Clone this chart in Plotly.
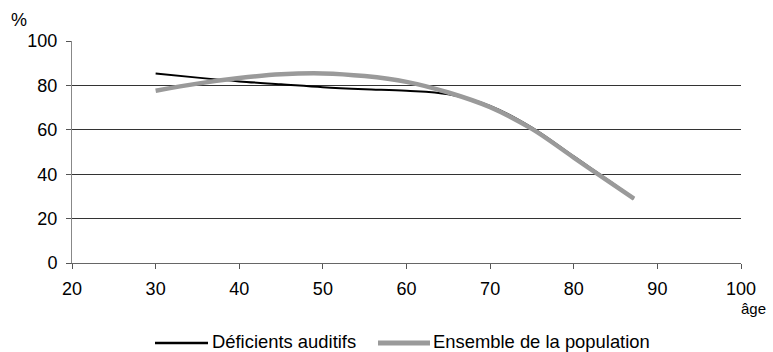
import plotly.graph_objects as go

ages = [30, 35, 40, 45, 50, 55, 60, 65, 70, 75, 80, 85, 87.2]
deficients = [85.4, 83.5, 81.8, 80.5, 79.2, 78.3, 77.6, 76.0, 70.8, 61.0, 48.0, 35.0, 29.0]
ensemble = [77.6, 80.8, 83.3, 85.0, 85.4, 84.2, 81.6, 76.8, 70.2, 60.4, 47.5, 34.6, 29.0]

series_names = ["Déficients auditifs", "Ensemble de la population"]
series_colors = ["#000000", "#9a9a9a"]
series_widths = [2, 4.5]

x_ticks = [20, 30, 40, 50, 60, 70, 80, 90, 100]
y_ticks = [0, 20, 40, 60, 80, 100]

FAM = "Liberation Sans, Arial, sans-serif"
font = dict(family=FAM, size=18, color="#000")

L, R, T, B, W, H = 72, 32, 41, 89, 773, 352
PW, PH = W - L - R, H - T - B


def px_x(p):
    return (p - L) / PW


def px_y(p):
    return (H - B - p) / PH


fig = go.Figure()
for name, vals, col, wd in zip(series_names, [deficients, ensemble], series_colors, series_widths):
    fig.add_trace(go.Scatter(x=ages, y=vals, mode="lines", name=name, showlegend=False,
                             line=dict(color=col, width=wd, shape="spline", smoothing=1.0)))

# manual legend (longer line samples like the original)
leg_line_y = px_y(343.0)
leg_text_y = px_y(341.5)
leg_items = [(155, 208, 211), (378, 430, 432)]
shapes = []
annotations = []
for (x0, x1, xt), name, col, wd in zip(leg_items, series_names, series_colors, series_widths):
    shapes.append(dict(type="line", xref="paper", yref="paper", x0=px_x(x0), x1=px_x(x1),
                       y0=leg_line_y, y1=leg_line_y, line=dict(color=col, width=wd + 0.5)))
    annotations.append(dict(text=name, xref="paper", yref="paper", x=px_x(xt), y=leg_text_y,
                            showarrow=False, xanchor="left", yanchor="middle", borderpad=0,
                            font=dict(family=FAM, size=18.4, color="#000")))

annotations += [
    dict(text="%", xref="paper", yref="paper", x=0, y=1.0, xshift=-53, yshift=21,
         showarrow=False, xanchor="center", yanchor="middle", font=font),
    dict(text="âge", xref="paper", yref="paper", x=1.0, y=0, xshift=12, yshift=-45,
         showarrow=False, xanchor="center", yanchor="middle",
         font=dict(family=FAM, size=15, color="#000")),
]

fig.update_layout(
    width=W, height=H,
    margin=dict(l=L, r=R, t=T, b=B, autoexpand=False),
    paper_bgcolor="white", plot_bgcolor="white",
    font=font,
    showlegend=False,
    shapes=shapes,
    annotations=annotations,
    xaxis=dict(range=[20, 100], tickvals=x_ticks, ticks="outside", ticklen=5, tickcolor="#555",
               showgrid=False, zeroline=False, showline=True, linecolor="#666", linewidth=1,
               tickfont=font, automargin=False, ticklabelstandoff=4),
    yaxis=dict(range=[0, 100], tickvals=y_ticks, ticks="outside", ticklen=5, tickcolor="#555",
               showgrid=True, gridcolor="#333", gridwidth=1, zeroline=False,
               showline=True, linecolor="#888", linewidth=1, tickfont=font, automargin=False,
               ticklabelstandoff=5),
)

fig.write_html("out.html", config={"displayModeBar": False},
               post_script="document.body.style.margin='0';document.body.style.padding='0';")
